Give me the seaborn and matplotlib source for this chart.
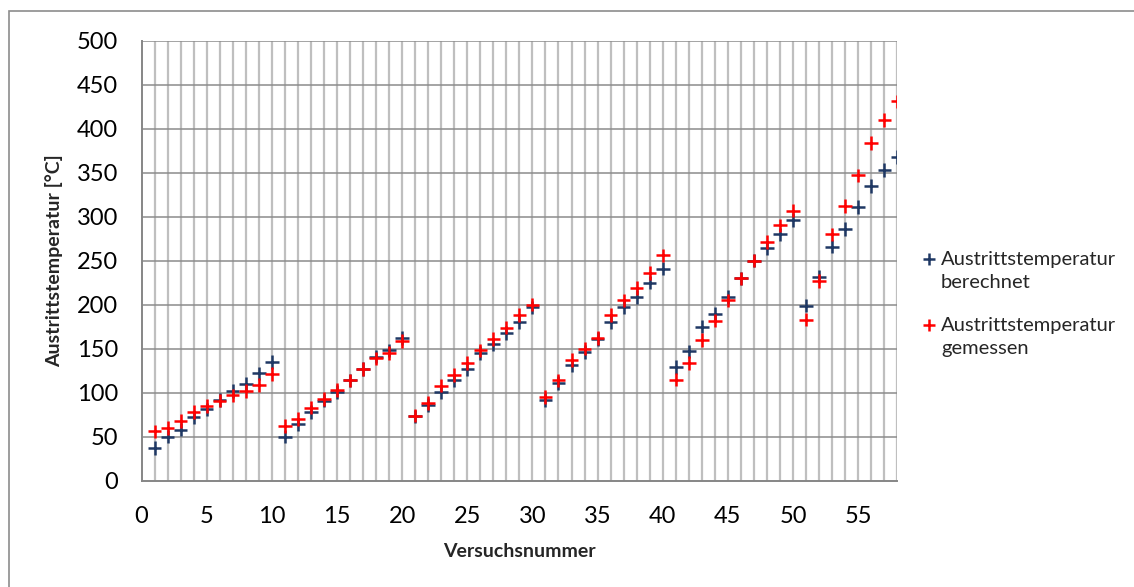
import matplotlib
matplotlib.use("Agg")
import matplotlib.pyplot as plt
import seaborn as sns
import pandas as pd
import numpy as np
from matplotlib.patches import Rectangle
from matplotlib.lines import Line2D

versuch = list(range(1, 59))
berechnet = [37, 50, 58, 72, 81, 92, 102, 110, 122, 135,
             50, 64, 78, 91, 101, 114, 127, 141, 148, 162,
             73, 86, 101, 114, 127, 145, 155, 168, 180, 197,
             92, 111, 131, 146, 161, 180, 197, 209, 225, 241,
             129, 147, 175, 190, 209, 230, 250, 264, 280, 296,
             199, 232, 266, 286, 311, 335, 353, 368]
gemessen = [56, 60, 68, 78, 85, 91, 97, 102, 109, 121,
            62, 70, 83, 93, 103, 114, 127, 139, 145, 159,
            74, 88, 108, 120, 134, 148, 161, 174, 188, 200,
            95, 114, 137, 150, 162, 188, 205, 219, 236, 256,
            115, 134, 160, 182, 205, 230, 250, 271, 290, 307,
            183, 227, 280, 312, 347, 384, 410, 431]
series_names = ["Austrittstemperatur\nberechnet", "Austrittstemperatur\ngemessen"]
colors = ["#1F3864", "#FF0000"]
x_ticks = list(range(0, 56, 5))
y_ticks = list(range(0, 501, 50))

sns.set_theme(style="white")
plt.rcParams['font.family'] = ['Lato', 'DejaVu Sans']

W, H = 1134, 587
fig = plt.figure(figsize=(W / 100, H / 100), dpi=100)
ax = fig.add_axes([141.5 / W, 1 - 480.7 / H, (897.3 - 141.5) / W, (480.7 - 40.7) / H])

df = pd.DataFrame({
    "Versuchsnummer": versuch * 2,
    "Temp": berechnet + gemessen,
    "Serie": [series_names[0]] * len(versuch) + [series_names[1]] * len(versuch),
})
sns.scatterplot(data=df, x="Versuchsnummer", y="Temp", hue="Serie",
                palette=colors, marker="+", s=95, linewidth=1.8, ax=ax,
                legend=False, zorder=3)

ax.set_xlim(0, 58)
ax.set_ylim(0, 500)
ax.set_xticks(x_ticks)
ax.set_yticks(y_ticks)
ax.tick_params(axis="both", which="both", length=0, labelsize=17, colors="black")
ax.tick_params(axis="x", pad=18)
ax.tick_params(axis="y", pad=17)

for xv in range(1, 59):
    ax.axvline(xv, color="#bfbfbf", lw=1.6, zorder=1)
for yv in y_ticks[1:]:
    ax.axhline(yv, color="#8c8c8c", lw=1.1, zorder=1.5)

for s in ["top", "right"]:
    ax.spines[s].set_visible(False)
for s in ["left", "bottom"]:
    ax.spines[s].set_color("#868686")
    ax.spines[s].set_linewidth(1.4)
    ax.spines[s].set_zorder(2)

ax.set_xlabel("Versuchsnummer", fontsize=14, fontweight="bold", labelpad=12)
ax.set_ylabel("Austrittstemperatur [°C]", fontsize=14, fontweight="bold", labelpad=10)

handles = [Line2D([], [], marker="+", color=c, linestyle="none", markersize=9,
                  markeredgewidth=1.8) for c in colors]
leg = fig.legend(handles, series_names, loc="center left",
                 bbox_to_anchor=(923 / W, 1 - 304 / H), frameon=False,
                 fontsize=14.5, handlelength=0.6, handletextpad=0.3,
                 labelspacing=1.25, borderpad=0, borderaxespad=0)
for t in leg.get_texts():
    t.set_linespacing(1.45)
for h in leg.legend_handles:
    h.set_ydata([y + 8.6 for y in h.get_ydata()])

fig.patches.append(Rectangle((8.7 / W, -0.1), 1.2, 1.1 - 11 / H,
                             transform=fig.transFigure, fill=False,
                             edgecolor="#8c8c8c", lw=1.2))

fig.savefig("out.png", dpi=100)
